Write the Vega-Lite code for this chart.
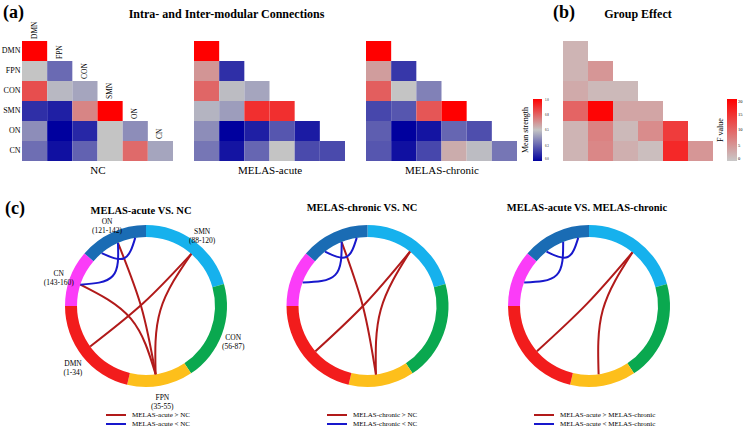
{
  "$schema": "https://vega.github.io/schema/vega-lite/v6.json",
  "background": "white",
  "padding": {"left": 1, "top": 4, "right": 0, "bottom": 2},
  "config": {"view": {"stroke": null}, "font": "Liberation Serif", "axis": {"grid": false}},
  "datasets": {
    "heat": [
      {"g": "NC", "r": "DMN", "c": "DMN", "v": 1.0},
      {"g": "NC", "r": "FPN", "c": "DMN", "v": 0.5}, {"g": "NC", "r": "FPN", "c": "FPN", "v": 0.27},
      {"g": "NC", "r": "CON", "c": "DMN", "v": 0.8}, {"g": "NC", "r": "CON", "c": "FPN", "v": 0.47}, {"g": "NC", "r": "CON", "c": "CON", "v": 0.42},
      {"g": "NC", "r": "SMN", "c": "DMN", "v": 0.12}, {"g": "NC", "r": "SMN", "c": "FPN", "v": 0.08}, {"g": "NC", "r": "SMN", "c": "CON", "v": 0.66}, {"g": "NC", "r": "SMN", "c": "SMN", "v": 1.0},
      {"g": "NC", "r": "ON", "c": "DMN", "v": 0.36}, {"g": "NC", "r": "ON", "c": "FPN", "v": 0.0}, {"g": "NC", "r": "ON", "c": "CON", "v": 0.1}, {"g": "NC", "r": "ON", "c": "SMN", "v": 0.5}, {"g": "NC", "r": "ON", "c": "ON", "v": 0.36},
      {"g": "NC", "r": "CN", "c": "DMN", "v": 0.28}, {"g": "NC", "r": "CN", "c": "FPN", "v": 0.04}, {"g": "NC", "r": "CN", "c": "CON", "v": 0.25}, {"g": "NC", "r": "CN", "c": "SMN", "v": 0.5}, {"g": "NC", "r": "CN", "c": "ON", "v": 0.73}, {"g": "NC", "r": "CN", "c": "CN", "v": 0.42},
      {"g": "AC", "r": "DMN", "c": "DMN", "v": 1.0},
      {"g": "AC", "r": "FPN", "c": "DMN", "v": 0.62}, {"g": "AC", "r": "FPN", "c": "FPN", "v": 0.12},
      {"g": "AC", "r": "CON", "c": "DMN", "v": 0.74}, {"g": "AC", "r": "CON", "c": "FPN", "v": 0.48}, {"g": "AC", "r": "CON", "c": "CON", "v": 0.42},
      {"g": "AC", "r": "SMN", "c": "DMN", "v": 0.46}, {"g": "AC", "r": "SMN", "c": "FPN", "v": 0.4}, {"g": "AC", "r": "SMN", "c": "CON", "v": 0.88}, {"g": "AC", "r": "SMN", "c": "SMN", "v": 0.88},
      {"g": "AC", "r": "ON", "c": "DMN", "v": 0.36}, {"g": "AC", "r": "ON", "c": "FPN", "v": 0.0}, {"g": "AC", "r": "ON", "c": "CON", "v": 0.08}, {"g": "AC", "r": "ON", "c": "SMN", "v": 0.22}, {"g": "AC", "r": "ON", "c": "ON", "v": 0.07},
      {"g": "AC", "r": "CN", "c": "DMN", "v": 0.3}, {"g": "AC", "r": "CN", "c": "FPN", "v": 0.05}, {"g": "AC", "r": "CN", "c": "CON", "v": 0.26}, {"g": "AC", "r": "CN", "c": "SMN", "v": 0.5}, {"g": "AC", "r": "CN", "c": "ON", "v": 0.19}, {"g": "AC", "r": "CN", "c": "CN", "v": 0.19},
      {"g": "CH", "r": "DMN", "c": "DMN", "v": 1.0},
      {"g": "CH", "r": "FPN", "c": "DMN", "v": 0.6}, {"g": "CH", "r": "FPN", "c": "FPN", "v": 0.14},
      {"g": "CH", "r": "CON", "c": "DMN", "v": 0.76}, {"g": "CH", "r": "CON", "c": "FPN", "v": 0.5}, {"g": "CH", "r": "CON", "c": "CON", "v": 0.33},
      {"g": "CH", "r": "SMN", "c": "DMN", "v": 0.18}, {"g": "CH", "r": "SMN", "c": "FPN", "v": 0.22}, {"g": "CH", "r": "SMN", "c": "CON", "v": 0.78}, {"g": "CH", "r": "SMN", "c": "SMN", "v": 1.0},
      {"g": "CH", "r": "ON", "c": "DMN", "v": 0.24}, {"g": "CH", "r": "ON", "c": "FPN", "v": 0.0}, {"g": "CH", "r": "ON", "c": "CON", "v": 0.05}, {"g": "CH", "r": "ON", "c": "SMN", "v": 0.26}, {"g": "CH", "r": "ON", "c": "ON", "v": 0.2},
      {"g": "CH", "r": "CN", "c": "DMN", "v": 0.22}, {"g": "CH", "r": "CN", "c": "FPN", "v": 0.04}, {"g": "CH", "r": "CN", "c": "CON", "v": 0.18}, {"g": "CH", "r": "CN", "c": "SMN", "v": 0.56}, {"g": "CH", "r": "CN", "c": "ON", "v": 0.48}, {"g": "CH", "r": "CN", "c": "CN", "v": 0.3},
      {"g": "GE", "r": "DMN", "c": "DMN", "v": 2},
      {"g": "GE", "r": "FPN", "c": "DMN", "v": 2}, {"g": "GE", "r": "FPN", "c": "FPN", "v": 5},
      {"g": "GE", "r": "CON", "c": "DMN", "v": 3}, {"g": "GE", "r": "CON", "c": "FPN", "v": 1.5}, {"g": "GE", "r": "CON", "c": "CON", "v": 1.5},
      {"g": "GE", "r": "SMN", "c": "DMN", "v": 10}, {"g": "GE", "r": "SMN", "c": "FPN", "v": 19.5}, {"g": "GE", "r": "SMN", "c": "CON", "v": 3.5}, {"g": "GE", "r": "SMN", "c": "SMN", "v": 3.5},
      {"g": "GE", "r": "ON", "c": "DMN", "v": 2}, {"g": "GE", "r": "ON", "c": "FPN", "v": 7}, {"g": "GE", "r": "ON", "c": "CON", "v": 1.5}, {"g": "GE", "r": "ON", "c": "SMN", "v": 6}, {"g": "GE", "r": "ON", "c": "ON", "v": 14},
      {"g": "GE", "r": "CN", "c": "DMN", "v": 2}, {"g": "GE", "r": "CN", "c": "FPN", "v": 6.5}, {"g": "GE", "r": "CN", "c": "CON", "v": 2.5}, {"g": "GE", "r": "CN", "c": "SMN", "v": 1}, {"g": "GE", "r": "CN", "c": "ON", "v": 16}, {"g": "GE", "r": "CN", "c": "CN", "v": 5}
    ],
    "mods": [
      {"m": "SMN", "n": 33, "ord": 1, "lbl": "SMN\n(88-120)"},
      {"m": "CON", "n": 32, "ord": 2, "lbl": "CON\n(56-87)"},
      {"m": "FPN", "n": 21, "ord": 3, "lbl": "FPN\n(35-55)"},
      {"m": "DMN", "n": 34, "ord": 4, "lbl": "DMN\n(1-34)"},
      {"m": "CN", "n": 18, "ord": 5, "lbl": "CN\n(143-160)"},
      {"m": "ON", "n": 22, "ord": 6, "lbl": "ON\n(121-142)"}
    ],
    "tags": [
      {"t": "(a)", "p": "a"},
      {"t": "(b)", "p": "b"},
      {"t": "(c)", "p": "c"}
    ],
    "chords": [
      {"p": 1, "id": "1a", "a": 41, "b": 234, "dir": "MELAS-acute > NC"},
      {"p": 1, "id": "1b", "a": 41, "b": 172, "dir": "MELAS-acute > NC"},
      {"p": 1, "id": "1c", "a": 288, "b": 172, "dir": "MELAS-acute > NC"},
      {"p": 1, "id": "1d", "a": 336, "b": 172, "dir": "MELAS-acute > NC"},
      {"p": 1, "id": "1e", "a": 320, "b": 351, "dir": "MELAS-acute < NC"},
      {"p": 1, "id": "1f", "a": 336, "b": 288, "dir": "MELAS-acute < NC"},
      {"p": 2, "id": "2a", "a": 38, "b": 229, "dir": "MELAS-chronic > NC"},
      {"p": 2, "id": "2b", "a": 38, "b": 173, "dir": "MELAS-chronic > NC"},
      {"p": 2, "id": "2d", "a": 338, "b": 173, "dir": "MELAS-chronic > NC"},
      {"p": 2, "id": "2e", "a": 322, "b": 351, "dir": "MELAS-chronic < NC"},
      {"p": 2, "id": "2f", "a": 338, "b": 290, "dir": "MELAS-chronic < NC"},
      {"p": 3, "id": "3a", "a": 39, "b": 229, "dir": "MELAS-acute > MELAS-chronic"},
      {"p": 3, "id": "3b", "a": 39, "b": 172, "dir": "MELAS-acute > MELAS-chronic"},
      {"p": 3, "id": "3e", "a": 322, "b": 351, "dir": "MELAS-acute < MELAS-chronic"},
      {"p": 3, "id": "3f", "a": 338, "b": 290, "dir": "MELAS-acute < MELAS-chronic"}
    ]
  },
  "vconcat": [
    {
      "hconcat": [
        {
          "width": 151, "height": 120,
          "layer": [
            {
              "data": {"name": "heat"},
              "transform": [{"filter": "datum.g == 'NC'"}],
              "mark": "rect",
              "encoding": {
                "x": {"field": "c", "type": "nominal", "scale": {"domain": ["DMN", "FPN", "CON", "SMN", "ON", "CN"]}, "axis": {"title": "NC", "labels": false, "ticks": false, "domain": false, "titleFontSize": 11, "titleFontWeight": "normal", "titlePadding": 3}},
                "y": {"field": "r", "type": "nominal", "scale": {"domain": ["DMN", "FPN", "CON", "SMN", "ON", "CN"]}, "axis": {"title": null, "ticks": false, "domain": false, "labelFontSize": 8, "labelPadding": 2, "labelColor": "black"}},
                "color": {"field": "v", "type": "quantitative", "scale": {"domain": [0, 0.5, 1], "range": ["#00009e", "#c4c4c4", "#ff0000"], "interpolate": "rgb"}, "legend": null}
              }
            },
            {
              "data": {"name": "heat"},
              "transform": [{"filter": "datum.g == 'NC' && datum.r == datum.c"}],
              "mark": {"type": "text", "angle": 270, "align": "left", "baseline": "middle", "fontSize": 7.5, "yOffset": -12},
              "encoding": {
                "x": {"field": "c", "type": "nominal"},
                "y": {"field": "r", "type": "nominal"},
                "text": {"field": "c"}
              }
            },
            {
              "data": {"name": "tags"},
              "transform": [{"filter": "datum.p == 'a'"}],
              "mark": {"type": "text", "fontSize": 18, "fontWeight": "bold", "align": "left", "baseline": "top"},
              "encoding": {"x": {"value": -19}, "y": {"value": -37}, "text": {"field": "t"}}
            },
            {
              "data": {"name": "tags"},
              "transform": [{"filter": "datum.p == 'c'"}],
              "mark": {"type": "text", "fontSize": 18, "fontWeight": "bold", "align": "left", "baseline": "top"},
              "encoding": {"x": {"value": -17}, "y": {"value": 159}, "text": {"field": "t"}}
            }
          ]
        },
        {
          "width": 151, "height": 120,
          "title": {"text": "Intra- and Inter-modular Connections", "fontSize": 12, "fontWeight": "bold", "frame": "group", "dx": -43, "offset": 20},
          "data": {"name": "heat"},
          "transform": [{"filter": "datum.g == 'AC'"}],
          "mark": "rect",
          "encoding": {
            "x": {"field": "c", "type": "nominal", "scale": {"domain": ["DMN", "FPN", "CON", "SMN", "ON", "CN"]}, "axis": {"title": "MELAS-acute", "labels": false, "ticks": false, "domain": false, "titleFontSize": 11, "titleFontWeight": "normal", "titlePadding": 3}},
            "y": {"field": "r", "type": "nominal", "scale": {"domain": ["DMN", "FPN", "CON", "SMN", "ON", "CN"]}, "axis": null},
            "color": {"field": "v", "type": "quantitative", "scale": {"domain": [0, 0.5, 1], "range": ["#00009e", "#c4c4c4", "#ff0000"], "interpolate": "rgb"}, "legend": null}
          }
        },
        {
          "width": 151, "height": 120,
          "layer": [
            {
              "data": {"name": "heat"},
              "transform": [{"filter": "datum.g == 'CH'"}],
              "mark": "rect",
              "encoding": {
                "x": {"field": "c", "type": "nominal", "scale": {"domain": ["DMN", "FPN", "CON", "SMN", "ON", "CN"]}, "axis": {"title": "MELAS-chronic", "labels": false, "ticks": false, "domain": false, "titleFontSize": 11, "titleFontWeight": "normal", "titlePadding": 3}},
                "y": {"field": "r", "type": "nominal", "scale": {"domain": ["DMN", "FPN", "CON", "SMN", "ON", "CN"]}, "axis": null},
                "color": {
                  "field": "v", "type": "quantitative",
                  "scale": {"domain": [0, 0.5, 1], "range": ["#00009e", "#c4c4c4", "#ff0000"], "interpolate": "rgb"},
                  "legend": {"orient": "none", "legendX": 156, "legendY": 58, "title": "Mean strength", "titleOrient": "left", "titleAngle": 270, "titleFontSize": 8, "titleFontWeight": "normal", "titleAnchor": "middle", "titlePadding": 2, "gradientLength": 62, "gradientThickness": 9, "gradientStrokeWidth": 0, "labelFontSize": 3, "labelOffset": 3, "values": [0, 0.25, 0.5, 0.75, 1], "direction": "vertical"}
                }
              }
            },
            {
              "data": {"name": "tags"},
              "transform": [{"filter": "datum.p == 'b'"}],
              "mark": {"type": "text", "fontSize": 18, "fontWeight": "bold", "align": "left", "baseline": "top"},
              "encoding": {"x": {"value": 187}, "y": {"value": -37}, "text": {"field": "t"}}
            }
          ]
        },
        {
          "width": 175, "height": 120,
          "title": {"text": "Group Effect", "fontSize": 12, "fontWeight": "bold", "frame": "group", "dx": 12.5, "offset": 20},
          "data": {"name": "heat"},
          "transform": [{"filter": "datum.g == 'GE'"}],
          "mark": "rect",
          "encoding": {
            "x": {"field": "c", "type": "nominal", "scale": {"domain": ["DMN", "FPN", "CON", "SMN", "ON", "CN"], "paddingInner": 0, "paddingOuter": 0.5, "align": 1}, "axis": null},
            "y": {"field": "r", "type": "nominal", "scale": {"domain": ["DMN", "FPN", "CON", "SMN", "ON", "CN"]}, "axis": null},
            "color": {
              "field": "v", "type": "quantitative",
              "scale": {"domain": [0, 20], "range": ["#c8c8c8", "#ff0000"], "interpolate": "rgb"},
              "legend": {"orient": "none", "legendX": 179, "legendY": 58, "title": "F value", "titleOrient": "left", "titleAngle": 270, "titleFontSize": 8, "titleFontWeight": "normal", "titleAnchor": "middle", "titlePadding": 2, "gradientLength": 62, "gradientThickness": 10, "gradientStrokeWidth": 0, "labelFontSize": 4.5, "labelOffset": 1, "values": [0, 5, 10, 15, 20], "direction": "vertical"}
            }
          }
        }
      ],
      "spacing": 21,
      "bounds": "flush",
      "resolve": {"scale": {"color": "independent", "x": "independent", "y": "independent"}, "legend": {"color": "independent"}}
    },
    {
      "hconcat": [
        {
          "width": 200, "height": 138,
          "title": {"text": "MELAS-acute VS. NC", "fontSize": 10.5, "fontWeight": "bold", "frame": "group", "dx": 19, "offset": 1},
          "layer": [
            {
              "data": {"name": "mods"},
              "mark": {"type": "arc", "innerRadius": 69, "outerRadius": 81},
              "encoding": {
                "theta": {"field": "n", "type": "quantitative", "stack": true},
                "order": {"field": "ord", "type": "quantitative"},
                "fill": {"field": "m", "type": "nominal", "scale": {"domain": ["SMN", "CON", "FPN", "DMN", "CN", "ON"], "range": ["#16b1ed", "#0aa84f", "#fdbf1b", "#f21c1c", "#fb3cf8", "#1a6cb4"]}, "legend": null},
                "x": {"datum": 0, "type": "quantitative", "scale": {"domain": [-1.797, 1.101]}, "axis": null},
                "y": {"datum": 0, "type": "quantitative", "scale": {"domain": [-1, 1]}, "axis": null}
              }
            },
            {
              "data": {"name": "mods"},
              "mark": {"type": "text", "radius": 93, "fontSize": 7.5, "lineBreak": "\n", "lineHeight": 9, "align": "center", "baseline": "middle"},
              "encoding": {
                "theta": {"field": "n", "type": "quantitative", "stack": true},
                "order": {"field": "ord", "type": "quantitative"},
                "text": {"field": "lbl"},
                "x": {"datum": 0, "type": "quantitative", "scale": {"domain": [-1.797, 1.101]}, "axis": null},
                "y": {"datum": 0, "type": "quantitative", "scale": {"domain": [-1, 1]}, "axis": null}
              }
            },
            {
              "data": {"name": "chords"},
              "transform": [
                {"filter": "datum.p == 1"},
                {"calculate": "abs(datum.b - datum.a)", "as": "d0"},
                {"calculate": "datum.d0 > 180 ? 360 - datum.d0 : datum.d0", "as": "sep"},
                {"calculate": "datum.d0 > 180 ? (datum.a + datum.b) / 2 + 180 : (datum.a + datum.b) / 2", "as": "mid"},
                {"fold": ["a", "mid", "b"], "as": ["k", "ang"]},
                {"calculate": "datum.k == 'mid' ? tan((180 - datum.sep) * PI / 720) : 1", "as": "rr"},
                {"calculate": "datum.rr * sin(datum.ang * PI / 180)", "as": "px"},
                {"calculate": "datum.rr * cos(datum.ang * PI / 180)", "as": "py"},
                {"calculate": "datum.k == 'a' ? 0 : (datum.k == 'mid' ? 1 : 2)", "as": "o"}
              ],
              "mark": {"type": "line", "interpolate": "natural", "strokeWidth": 2},
              "encoding": {
                "x": {"field": "px", "type": "quantitative", "scale": {"domain": [-1.797, 1.101]}, "axis": null},
                "y": {"field": "py", "type": "quantitative", "scale": {"domain": [-1, 1]}, "axis": null},
                "detail": {"field": "id"},
                "order": {"field": "o", "type": "quantitative"},
                "stroke": {
                  "field": "dir", "type": "nominal",
                  "scale": {"domain": ["MELAS-acute > NC", "MELAS-acute < NC"], "range": ["#b11a1a", "#1818cc"]},
                  "legend": {"orient": "none", "legendX": 83, "legendY": 173, "title": null, "symbolType": "M-1,0H4", "symbolSize": 64, "symbolStrokeWidth": 2, "labelFontSize": 7, "labelOffset": 17, "rowPadding": 0}
                }
              }
            }
          ]
        },
        {
          "width": 200, "height": 138,
          "title": {"text": "MELAS-chronic VS. NC", "fontSize": 10.5, "fontWeight": "bold", "frame": "group", "dx": 18.5, "offset": 12},
          "layer": [
            {
              "data": {"name": "mods"},
              "mark": {"type": "arc", "innerRadius": 69, "outerRadius": 81},
              "encoding": {
                "theta": {"field": "n", "type": "quantitative", "stack": true},
                "order": {"field": "ord", "type": "quantitative"},
                "fill": {"field": "m", "type": "nominal", "scale": {"domain": ["SMN", "CON", "FPN", "DMN", "CN", "ON"], "range": ["#16b1ed", "#0aa84f", "#fdbf1b", "#f21c1c", "#fb3cf8", "#1a6cb4"]}, "legend": null},
                "x": {"datum": 0, "type": "quantitative", "scale": {"domain": [-1.797, 1.101]}, "axis": null},
                "y": {"datum": 0, "type": "quantitative", "scale": {"domain": [-1, 1]}, "axis": null}
              }
            },
            {
              "data": {"name": "chords"},
              "transform": [
                {"filter": "datum.p == 2"},
                {"calculate": "abs(datum.b - datum.a)", "as": "d0"},
                {"calculate": "datum.d0 > 180 ? 360 - datum.d0 : datum.d0", "as": "sep"},
                {"calculate": "datum.d0 > 180 ? (datum.a + datum.b) / 2 + 180 : (datum.a + datum.b) / 2", "as": "mid"},
                {"fold": ["a", "mid", "b"], "as": ["k", "ang"]},
                {"calculate": "datum.k == 'mid' ? tan((180 - datum.sep) * PI / 720) : 1", "as": "rr"},
                {"calculate": "datum.rr * sin(datum.ang * PI / 180)", "as": "px"},
                {"calculate": "datum.rr * cos(datum.ang * PI / 180)", "as": "py"},
                {"calculate": "datum.k == 'a' ? 0 : (datum.k == 'mid' ? 1 : 2)", "as": "o"}
              ],
              "mark": {"type": "line", "interpolate": "natural", "strokeWidth": 2},
              "encoding": {
                "x": {"field": "px", "type": "quantitative", "scale": {"domain": [-1.797, 1.101]}, "axis": null},
                "y": {"field": "py", "type": "quantitative", "scale": {"domain": [-1, 1]}, "axis": null},
                "detail": {"field": "id"},
                "order": {"field": "o", "type": "quantitative"},
                "stroke": {
                  "field": "dir", "type": "nominal",
                  "scale": {"domain": ["MELAS-chronic > NC", "MELAS-chronic < NC"], "range": ["#b11a1a", "#1818cc"]},
                  "legend": {"orient": "none", "legendX": 82.5, "legendY": 173, "title": null, "symbolType": "M-1,0H4", "symbolSize": 64, "symbolStrokeWidth": 2, "labelFontSize": 7, "labelOffset": 17, "rowPadding": 0}
                }
              }
            }
          ]
        },
        {
          "width": 200, "height": 138,
          "title": {"text": "MELAS-acute VS. MELAS-chronic", "fontSize": 10.5, "fontWeight": "bold", "frame": "group", "dx": 22, "offset": 12},
          "layer": [
            {
              "data": {"name": "mods"},
              "mark": {"type": "arc", "innerRadius": 69, "outerRadius": 81},
              "encoding": {
                "theta": {"field": "n", "type": "quantitative", "stack": true},
                "order": {"field": "ord", "type": "quantitative"},
                "fill": {"field": "m", "type": "nominal", "scale": {"domain": ["SMN", "CON", "FPN", "DMN", "CN", "ON"], "range": ["#16b1ed", "#0aa84f", "#fdbf1b", "#f21c1c", "#fb3cf8", "#1a6cb4"]}, "legend": null},
                "x": {"datum": 0, "type": "quantitative", "scale": {"domain": [-1.797, 1.101]}, "axis": null},
                "y": {"datum": 0, "type": "quantitative", "scale": {"domain": [-1, 1]}, "axis": null}
              }
            },
            {
              "data": {"name": "chords"},
              "transform": [
                {"filter": "datum.p == 3"},
                {"calculate": "abs(datum.b - datum.a)", "as": "d0"},
                {"calculate": "datum.d0 > 180 ? 360 - datum.d0 : datum.d0", "as": "sep"},
                {"calculate": "datum.d0 > 180 ? (datum.a + datum.b) / 2 + 180 : (datum.a + datum.b) / 2", "as": "mid"},
                {"fold": ["a", "mid", "b"], "as": ["k", "ang"]},
                {"calculate": "datum.k == 'mid' ? tan((180 - datum.sep) * PI / 720) : 1", "as": "rr"},
                {"calculate": "datum.rr * sin(datum.ang * PI / 180)", "as": "px"},
                {"calculate": "datum.rr * cos(datum.ang * PI / 180)", "as": "py"},
                {"calculate": "datum.k == 'a' ? 0 : (datum.k == 'mid' ? 1 : 2)", "as": "o"}
              ],
              "mark": {"type": "line", "interpolate": "natural", "strokeWidth": 2},
              "encoding": {
                "x": {"field": "px", "type": "quantitative", "scale": {"domain": [-1.797, 1.101]}, "axis": null},
                "y": {"field": "py", "type": "quantitative", "scale": {"domain": [-1, 1]}, "axis": null},
                "detail": {"field": "id"},
                "order": {"field": "o", "type": "quantitative"},
                "stroke": {
                  "field": "dir", "type": "nominal",
                  "scale": {"domain": ["MELAS-acute > MELAS-chronic", "MELAS-acute < MELAS-chronic"], "range": ["#b11a1a", "#1818cc"]},
                  "legend": {"orient": "none", "legendX": 68, "legendY": 173, "title": null, "symbolType": "M-1,0H4", "symbolSize": 64, "symbolStrokeWidth": 2, "labelFontSize": 7, "labelOffset": 17, "rowPadding": 0}
                }
              }
            }
          ]
        }
      ],
      "spacing": 21.5,
      "bounds": "flush",
      "resolve": {"scale": {"stroke": "independent", "x": "independent", "y": "independent", "theta": "independent"}, "legend": {"stroke": "independent"}}
    }
  ],
  "spacing": 196,
  "bounds": "flush",
  "resolve": {"scale": {"color": "independent", "stroke": "independent"}, "legend": {"color": "independent", "stroke": "independent"}}
}
